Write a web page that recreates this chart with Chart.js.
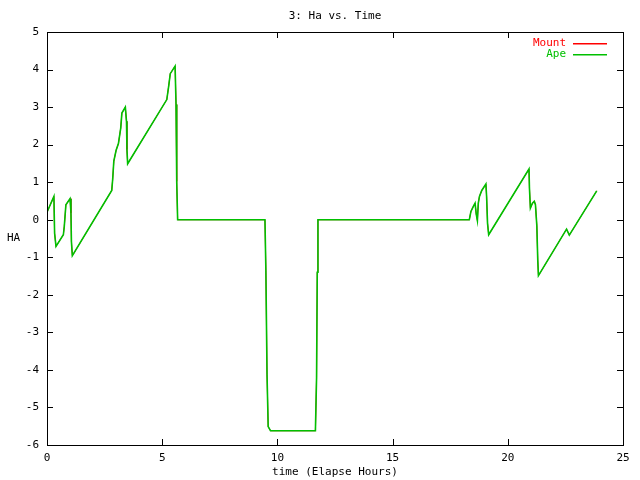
<!DOCTYPE html>
<html><head><meta charset="utf-8">
<script src="https://cdn.jsdelivr.net/npm/chart.js@4.4.1/dist/chart.umd.min.js"></script>
<style>html,body{margin:0;padding:0;background:#fff}#c{display:block}</style>
</head><body>
<canvas id="c" width="640" height="480"></canvas>
<script>
const chartTitle = "3: Ha vs. Time";
const xTitle = "time (Elapse Hours)";
const yTitle = "HA";
const seriesNames = ["Mount", "Ape"];
const xTicks = [0, 5, 10, 15, 20, 25];
const yTicks = [-6, -5, -4, -3, -2, -1, 0, 1, 2, 3, 4, 5];

const timeHours = [0.0, 0.3, 0.33, 0.39, 0.71, 0.75, 0.82, 1.0, 1.04, 1.06, 1.1,
  2.81, 2.85, 2.9, 3.0, 3.1, 3.2, 3.25, 3.4, 3.45, 3.47, 3.5,
  5.2, 5.28, 5.35, 5.56, 5.6, 5.63, 5.67,
  9.46, 9.5, 9.55, 9.6, 9.7, 11.65, 11.7, 11.73, 11.76,
  18.33, 18.4, 18.5, 18.58, 18.63, 18.68, 18.72, 18.77, 18.87, 19.05, 19.08, 19.12, 19.17,
  20.92, 20.94, 20.98, 21.07, 21.15, 21.2, 21.26, 21.3, 21.33,
  22.55, 22.67, 23.86];
const mountHA = [0.2, 0.62, -0.36, -0.71, -0.4, -0.18, 0.4, 0.56, 0.18, -0.58, -0.96,
  0.78, 1.07, 1.56, 1.85, 2.03, 2.44, 2.84, 3.0, 2.62, 1.87, 1.49,
  3.2, 3.55, 3.89, 4.09, 3.07, 1.02, 0,
  0, -1.36, -4.13, -5.51, -5.62, -5.62, -4.2, -1.4, 0,
  0, 0.22, 0.35, 0.44, 0.15, -0.02, 0.44, 0.62, 0.78, 0.95, 0.62, -0.09, -0.4,
  1.35, 0.84, 0.31, 0.44, 0.49, 0.4, -0.16, -1.07, -1.49,
  -0.25, -0.41, 0.77];
const apeHA = [0.2, 0.62, -0.36, -0.71, -0.4, -0.18, 0.4, 0.56, 0.18, -0.58, -0.96,
  0.78, 1.07, 1.56, 1.85, 2.03, 2.44, 2.84, 3.0, 2.62, 1.87, 1.49,
  3.2, 3.55, 3.89, 4.09, 3.07, 1.02, 0,
  0, -1.36, -4.13, -5.51, -5.62, -5.62, -4.2, -1.4, 0,
  0, 0.22, 0.35, 0.44, 0.15, -0.02, 0.44, 0.62, 0.78, 0.95, 0.62, -0.09, -0.4,
  1.35, 0.84, 0.31, 0.44, 0.49, 0.4, -0.16, -1.07, -1.49,
  -0.25, -0.41, 0.77];

const colors = ["#ff0000", "#00c000"];
const FONT = "DejaVu Sans Mono";

function pts(xs, ys) { return xs.map((x, i) => ({x: x, y: ys[i]})); }

const decor = {
  id: "decor",
  afterDraw(chart) {
    const ctx = chart.ctx, a = chart.chartArea;
    const xs = chart.scales.x, ys = chart.scales.y;
    ctx.save();
    ctx.strokeStyle = "#000"; ctx.lineWidth = 1;
    ctx.strokeRect(Math.round(a.left) + 0.5, Math.round(a.top) + 0.5,
      Math.round(a.right - a.left), Math.round(a.bottom - a.top));
    ctx.beginPath();
    yTicks.forEach(v => {
      const p = Math.round(ys.getPixelForValue(v)) + 0.5;
      ctx.moveTo(a.left, p); ctx.lineTo(a.left + 6, p);
      ctx.moveTo(a.right, p); ctx.lineTo(a.right - 6, p);
    });
    xTicks.forEach(v => {
      const p = Math.round(xs.getPixelForValue(v)) + 0.5;
      ctx.moveTo(p, a.bottom); ctx.lineTo(p, a.bottom - 6);
      ctx.moveTo(p, a.top); ctx.lineTo(p, a.top + 6);
    });
    ctx.stroke();
    ctx.font = "11px '" + FONT + "'";
    ctx.fillStyle = "#000";
    ctx.textBaseline = "middle";
    ctx.textAlign = "center";
    ctx.fillText(chartTitle, (a.left + a.right) / 2, 16);
    ctx.fillText(xTitle, (a.left + a.right) / 2, 472);
    ctx.textAlign = "left";
    ctx.fillText(yTitle, 7, 238);
    // legend
    ctx.textAlign = "right";
    seriesNames.forEach((n, i) => {
      const yy = 43 + i * 11;
      ctx.fillStyle = colors[i];
      ctx.fillText(n, 566, yy);
      ctx.fillRect(573, yy, 34, 1.5);
    });
    ctx.restore();
  }
};

new Chart(document.getElementById("c"), {
  type: "line",
  data: {
    datasets: [
      {label: seriesNames[0], data: pts(timeHours, mountHA), borderColor: colors[0], borderWidth: 1, pointRadius: 0, tension: 0, fill: false, order: 1},
      {label: seriesNames[1], data: pts(timeHours, apeHA), borderColor: colors[1], borderWidth: 1.6, pointRadius: 0, tension: 0, fill: false, order: 0}
    ]
  },
  options: {
    responsive: false,
    animation: false,
    layout: {padding: {left: 0, top: 32, right: 17, bottom: 0}},
    plugins: {legend: {display: false}, tooltip: {enabled: false}, title: {display: false}},
    scales: {
      x: {
        type: "linear", min: 0, max: 25,
        afterBuildTicks(s) { s.ticks = xTicks.map(v => ({value: v})); },
        afterFit(s) { s.height = 35; },
        grid: {display: false, drawTicks: false},
        border: {display: false},
        ticks: {padding: 7, color: "#000", font: {family: FONT, size: 11}, maxRotation: 0}
      },
      y: {
        type: "linear", min: -6, max: 5,
        afterBuildTicks(s) { s.ticks = yTicks.map(v => ({value: v})); },
        afterFit(s) { s.width = 47; },
        grid: {display: false, drawTicks: false},
        border: {display: false},
        ticks: {padding: 8, color: "#000", font: {family: FONT, size: 11}}
      }
    }
  },
  plugins: [decor]
});
</script>
</body></html>
